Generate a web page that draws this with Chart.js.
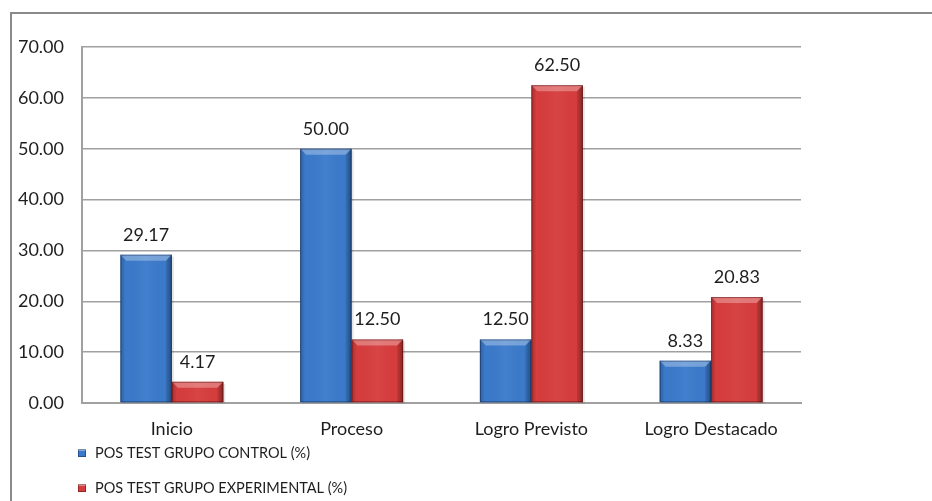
<!DOCTYPE html>
<html>
<head>
<meta charset="utf-8">
<script src="https://cdn.jsdelivr.net/npm/chart.js@4/dist/chart.umd.min.js"></script>
<style>
  html, body { margin: 0; padding: 0; background: #ffffff; }
  #wrap { width: 932px; height: 501px; position: relative; }
</style>
</head>
<body>
<div id="wrap"><canvas id="c" width="932" height="501"></canvas></div>
<script>
// Categories and series values
const categories = ['Inicio', 'Proceso', 'Logro Previsto', 'Logro Destacado'];
const controlValues = [29.17, 50.00, 12.50, 8.33];
const experimentalValues = [4.17, 12.50, 62.50, 20.83];
const seriesNames = ['POS TEST GRUPO CONTROL (%)', 'POS TEST GRUPO EXPERIMENTAL (%)'];
const yMin = 0, yMax = 70, yStep = 10;

const FONT = 'Lato, "Open Sans", sans-serif';
const TEXT = '#1e1e1e';
const GRID = '#a0a0a0';

const palette = [
  { base: '#3b7aca', light: 'rgba(255,255,255,0.30)', dark: 'rgba(10,30,70,0.45)' },
  { base: '#d63d3d', light: 'rgba(255,255,255,0.30)', dark: 'rgba(70,5,5,0.45)' }
];

// Bevelled look for every bar, plus value labels
const bevelPlugin = {
  id: 'bevel',
  beforeDatasetsDraw(chart) {
    const ctx = chart.ctx;
    ctx.save();
    chart.data.datasets.forEach((ds, di) => {
      chart.getDatasetMeta(di).data.forEach(el => {
        const l = el.x - el.width / 2, t = el.y, h = el.base - el.y;
        ctx.fillStyle = 'rgba(0,0,0,0.10)';
        ctx.fillRect(l + 2, t + 2, el.width, h - 1);
      });
    });
    ctx.restore();
  },
  afterDatasetsDraw(chart) {
    const ctx = chart.ctx;
    ctx.save();
    chart.data.datasets.forEach((ds, di) => {
      const p = palette[di];
      chart.getDatasetMeta(di).data.forEach((el, i) => {
        const l = el.x - el.width / 2, r = el.x + el.width / 2;
        const t = el.y, b = el.base, w = el.width;
        const bv = Math.min(6, (b - t) / 2);
        // side shading
        const g = ctx.createLinearGradient(l, 0, r, 0);
        g.addColorStop(0, 'rgba(0,0,0,0.22)');
        g.addColorStop(0.10, 'rgba(0,0,0,0.0)');
        g.addColorStop(0.5, 'rgba(255,255,255,0.04)');
        g.addColorStop(0.90, 'rgba(0,0,0,0.0)');
        g.addColorStop(1, 'rgba(0,0,0,0.30)');
        ctx.fillStyle = g;
        ctx.fillRect(l, t, w, b - t);
        // top bevel
        ctx.beginPath();
        ctx.moveTo(l, t); ctx.lineTo(r, t); ctx.lineTo(r - bv, t + bv); ctx.lineTo(l + bv, t + bv); ctx.closePath();
        ctx.fillStyle = p.light; ctx.fill();
        // right bevel
        ctx.beginPath();
        ctx.moveTo(r, t); ctx.lineTo(r, b); ctx.lineTo(r - bv, b); ctx.lineTo(r - bv, t + bv); ctx.closePath();
        ctx.fillStyle = 'rgba(0,0,0,0.12)'; ctx.fill();
        // outline
        ctx.strokeStyle = p.dark; ctx.lineWidth = 1;
        ctx.strokeRect(l + 0.5, t + 0.5, w - 1, b - t - 1);
        // value label
        ctx.fillStyle = TEXT;
        ctx.font = '18px ' + FONT;
        ctx.textAlign = 'center';
        ctx.textBaseline = 'alphabetic';
        ctx.fillText(ds.data[i].toFixed(2), el.x, t - 14);
      });
    });
    ctx.restore();
  }
};

// Frame around the chart and the stacked legend below it
const framePlugin = {
  id: 'frame',
  beforeDraw(chart) {
    const ctx = chart.ctx;
    ctx.save();
    ctx.fillStyle = '#ffffff';
    ctx.fillRect(0, 0, chart.width, chart.height);
    ctx.strokeStyle = '#8a8a8a';
    ctx.lineWidth = 2;
    ctx.beginPath();
    ctx.moveTo(11, chart.height + 5); ctx.lineTo(11, 13); ctx.lineTo(chart.width + 5, 13);
    ctx.stroke();
    ctx.restore();
  },
  afterDraw(chart) {
    const ctx = chart.ctx;
    ctx.save();
    const rows = [453, 488];
    chart.data.datasets.forEach((ds, di) => {
      const y = rows[di];
      const p = palette[di];
      const g = ctx.createLinearGradient(0, y - 4, 0, y + 4);
      g.addColorStop(0, '#ffffff');
      g.addColorStop(0.3, p.base);
      g.addColorStop(1, p.base);
      ctx.fillStyle = g;
      ctx.fillRect(78, y - 4, 8, 8);
      ctx.strokeStyle = p.dark; ctx.lineWidth = 1;
      ctx.strokeRect(78.5, y - 3.5, 7, 7);
      ctx.fillStyle = TEXT;
      ctx.font = '14.5px ' + FONT;
      ctx.textAlign = 'left';
      ctx.textBaseline = 'middle';
      ctx.fillText(ds.label, 95, y);
    });
    ctx.restore();
  }
};

new Chart(document.getElementById('c'), {
  type: 'bar',
  data: {
    labels: categories,
    datasets: [
      { label: seriesNames[0], data: controlValues, backgroundColor: palette[0].base, borderWidth: 0 },
      { label: seriesNames[1], data: experimentalValues, backgroundColor: palette[1].base, borderWidth: 0 }
    ]
  },
  options: {
    responsive: false,
    animation: false,
    devicePixelRatio: 1,
    categoryPercentage: 0.573,
    barPercentage: 1,
    layout: { padding: { left: 0, top: 47, right: 131, bottom: 0 } },
    plugins: { legend: { display: false }, tooltip: { enabled: false } },
    scales: {
      x: {
        grid: { display: false, drawTicks: false },
        border: { display: true, color: GRID, width: 2 },
        ticks: { color: TEXT, font: { family: FONT, size: 18 }, padding: 15, maxRotation: 0 },
        afterFit(s) { s.height = 98; }
      },
      y: {
        min: yMin, max: yMax,
        grid: { color: GRID, lineWidth: 1.5, drawTicks: false },
        border: { display: true, color: GRID, width: 2 },
        ticks: {
          stepSize: yStep, color: TEXT, font: { family: FONT, size: 18 }, padding: 18,
          callback: v => Number(v).toFixed(2)
        },
        afterFit(s) { s.width = 82; }
      }
    }
  },
  plugins: [bevelPlugin, framePlugin]
});
</script>
</body>
</html>
